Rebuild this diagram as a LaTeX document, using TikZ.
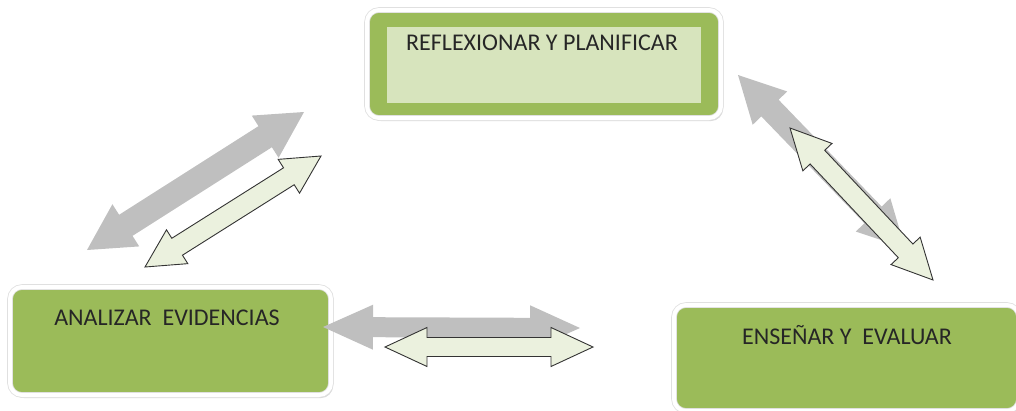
\documentclass[tikz,border=0pt]{standalone}
\usepackage{fontspec}
\setmainfont{Carlito}
\usetikzlibrary{positioning}
\usetikzlibrary{calc}
\usetikzlibrary{shadows}

\definecolor{verdeolivo}{HTML}{9BBB59}
\definecolor{verdeclaro}{HTML}{D7E4BD}
\definecolor{verdepalido}{HTML}{EBF1DE}
\definecolor{grisflecha}{HTML}{BFBFBF}

% flecha doble: estilo, origen, destino, semiancho cuerpo, semiancho punta, largo punta
\newcommand{\flechadoble}[6]{%
	\path ($(#2)!#6!(#3)$) coordinate (fa1) ($(#3)!#6!(#2)$) coordinate (fa2);
	\filldraw[#1] (#2) -- ($(fa1)!#5!90:(#2)$) -- ($(fa1)!#4!90:(#2)$) -- ($(fa2)!#4!90:(#2)$)
		-- ($(fa2)!#5!90:(#2)$) -- (#3) -- ($(fa2)!#5!270:(#2)$) -- ($(fa2)!#4!270:(#2)$)
		-- ($(fa1)!#4!270:(#2)$) -- ($(fa1)!#5!270:(#2)$) -- cycle;
}

\begin{document}
\begin{tikzpicture}
	[	x=1pt,y=-1pt,			% un punto por pixel, eje y hacia abajo
		caja/.style={rectangle,rounded corners=12pt,fill=verdeolivo,draw=black!12,double=white,
			double distance=4pt,line width=0.8pt,inner sep=0pt,
			drop shadow={opacity=0.3,shadow xshift=2pt,shadow yshift=-3pt}},
		interior/.style={rectangle,fill=verdeclaro,inner sep=0pt},
		texto/.style={font=\fontsize{24}{28}\selectfont,text=black!85},
		gris/.style={fill=grisflecha,draw=none},
		verde/.style={fill=verdepalido,draw=black!80,line width=0.9pt,line join=miter}	]
	\useasboundingbox (0,0) rectangle (1016,410);		% marco

	% cajas
	\node[caja,minimum width=354pt,minimum height=108pt] (plan) at (544,64) {};
	\node[interior,minimum width=314pt,minimum height=76pt] (planint) at (544,65) {};
	\node[texto] (plantxt) at (542,43) {REFLEXIONAR Y PLANIFICAR};
	\node[caja,minimum width=321pt,minimum height=108pt] (anal) at (170.5,341) {};
	\node[texto] (analtxt) at (167,318) {ANALIZAR\ \ EVIDENCIAS};
	\node[caja,minimum width=345pt,minimum height=106pt] (ense) at (846.5,358) {};
	\node[texto] (ensetxt) at (847,335) {ENSEÑAR Y\ \ EVALUAR};

	% extremos de las flechas
	\coordinate (gizq1) at (87,250);	\coordinate (gizq2) at (304,112);
	\coordinate (vizq1) at (145,267);	\coordinate (vizq2) at (321,156);
	\coordinate (gder1) at (738,75);	\coordinate (gder2) at (905,248);
	\coordinate (vder1) at (790,128);	\coordinate (vder2) at (933,280);
	\coordinate (gabj1) at (323,327);	\coordinate (gabj2) at (580,328);
	\coordinate (vabj1) at (385,347);	\coordinate (vabj2) at (593,347);

	% flechas grises (detras)
	\flechadoble{gris}{gizq1}{gizq2}{12.5pt}{25pt}{46pt}
	\flechadoble{gris}{gder1}{gder2}{12pt}{24pt}{46pt}
	\flechadoble{gris}{gabj1}{gabj2}{10pt}{22.5pt}{50pt}
	% flechas verdes
	\flechadoble{verde}{vizq1}{vizq2}{10pt}{20pt}{38pt}
	\flechadoble{verde}{vder1}{vder2}{10pt}{20pt}{40pt}
	\flechadoble{verde}{vabj1}{vabj2}{9.5pt}{19.5pt}{42pt}
\end{tikzpicture}
\end{document}
